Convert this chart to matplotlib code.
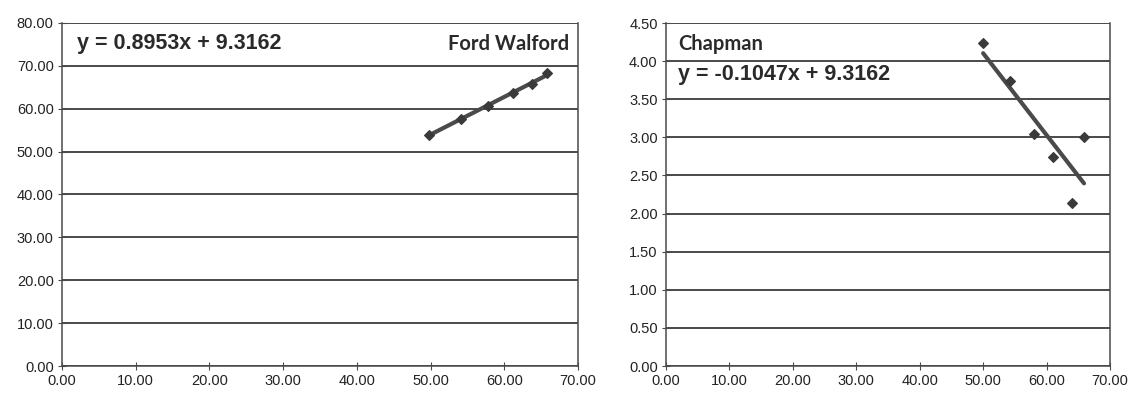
import matplotlib
matplotlib.use("Agg")
import matplotlib.pyplot as plt
import numpy as np

# Ford Walford: L(t) vs L(t+1)
fw_x = [49.8, 54.1, 57.8, 61.2, 63.8, 65.8]
fw_y = [53.9, 57.7, 60.7, 63.6, 65.7, 68.4]
fw_eq = "y = 0.8953x + 9.3162"

# Chapman
ch_x = [50.0, 54.3, 58.0, 61.0, 64.0, 65.9]
ch_y = [4.24, 3.74, 3.05, 2.74, 2.14, 3.00]
ch_eq = "y = -0.1047x + 9.3162"

plt.rcParams["font.family"] = ["Liberation Sans", "DejaVu Sans"]
dark = "#4a4a4a"

fig = plt.figure(figsize=(11.28, 3.94), dpi=100)
ax1 = fig.add_axes([62 / 1128, 28 / 394, 516 / 1128, 343 / 394])
ax2 = fig.add_axes([666 / 1128, 28 / 394, 444 / 1128, 343 / 394])


def style(ax, ymax, ystep):
    ax.set_xlim(0, 70)
    ax.set_ylim(0, ymax)
    ax.set_xticks(np.arange(0, 71, 10))
    ax.set_yticks(np.arange(0, ymax + ystep / 2, ystep))
    ax.xaxis.set_major_formatter(lambda v, p: f"{v:.2f}")
    ax.yaxis.set_major_formatter(lambda v, p: f"{v:.2f}")
    ax.grid(axis="y", color=dark, lw=1.4)
    ax.set_axisbelow(True)
    for s in ax.spines.values():
        s.set_color(dark)
        s.set_linewidth(1.1)
    ax.spines["top"].set_visible(False)
    ax.tick_params(direction="inout", length=6, color=dark, labelsize=10.5,
                   labelcolor="#222222", pad=3)


def trend(ax, x, y):
    k, b = np.polyfit(x, y, 1)
    xs = np.array([min(x), max(x)])
    ax.plot(xs, k * xs + b, color=dark, lw=3, solid_capstyle="round", zorder=3)
    ax.scatter(x, y, marker="D", s=24, color="#3a3a3a", zorder=4)


style(ax1, 80, 10)
trend(ax1, fw_x, fw_y)
ax1.text(0.03, 0.94, fw_eq, transform=ax1.transAxes, fontsize=15.5,
         fontweight="bold", color="#2a2a2a", va="center")
ax1.text(0.982, 0.94, "Ford Walford", transform=ax1.transAxes, fontsize=14.5,
         fontweight="bold", color="#2a2a2a", va="center", ha="right",
         family=["Lato", "DejaVu Sans"])

style(ax2, 4.5, 0.5)
trend(ax2, ch_x, ch_y)
ax2.text(0.027, 0.94, "Chapman", transform=ax2.transAxes, fontsize=14.5,
         fontweight="bold", color="#2a2a2a", va="center",
         family=["Lato", "DejaVu Sans"])
ax2.text(0.027, 0.85, ch_eq, transform=ax2.transAxes, fontsize=15.5,
         fontweight="bold", color="#2a2a2a", va="center")

fig.savefig("out.png", dpi=100)
